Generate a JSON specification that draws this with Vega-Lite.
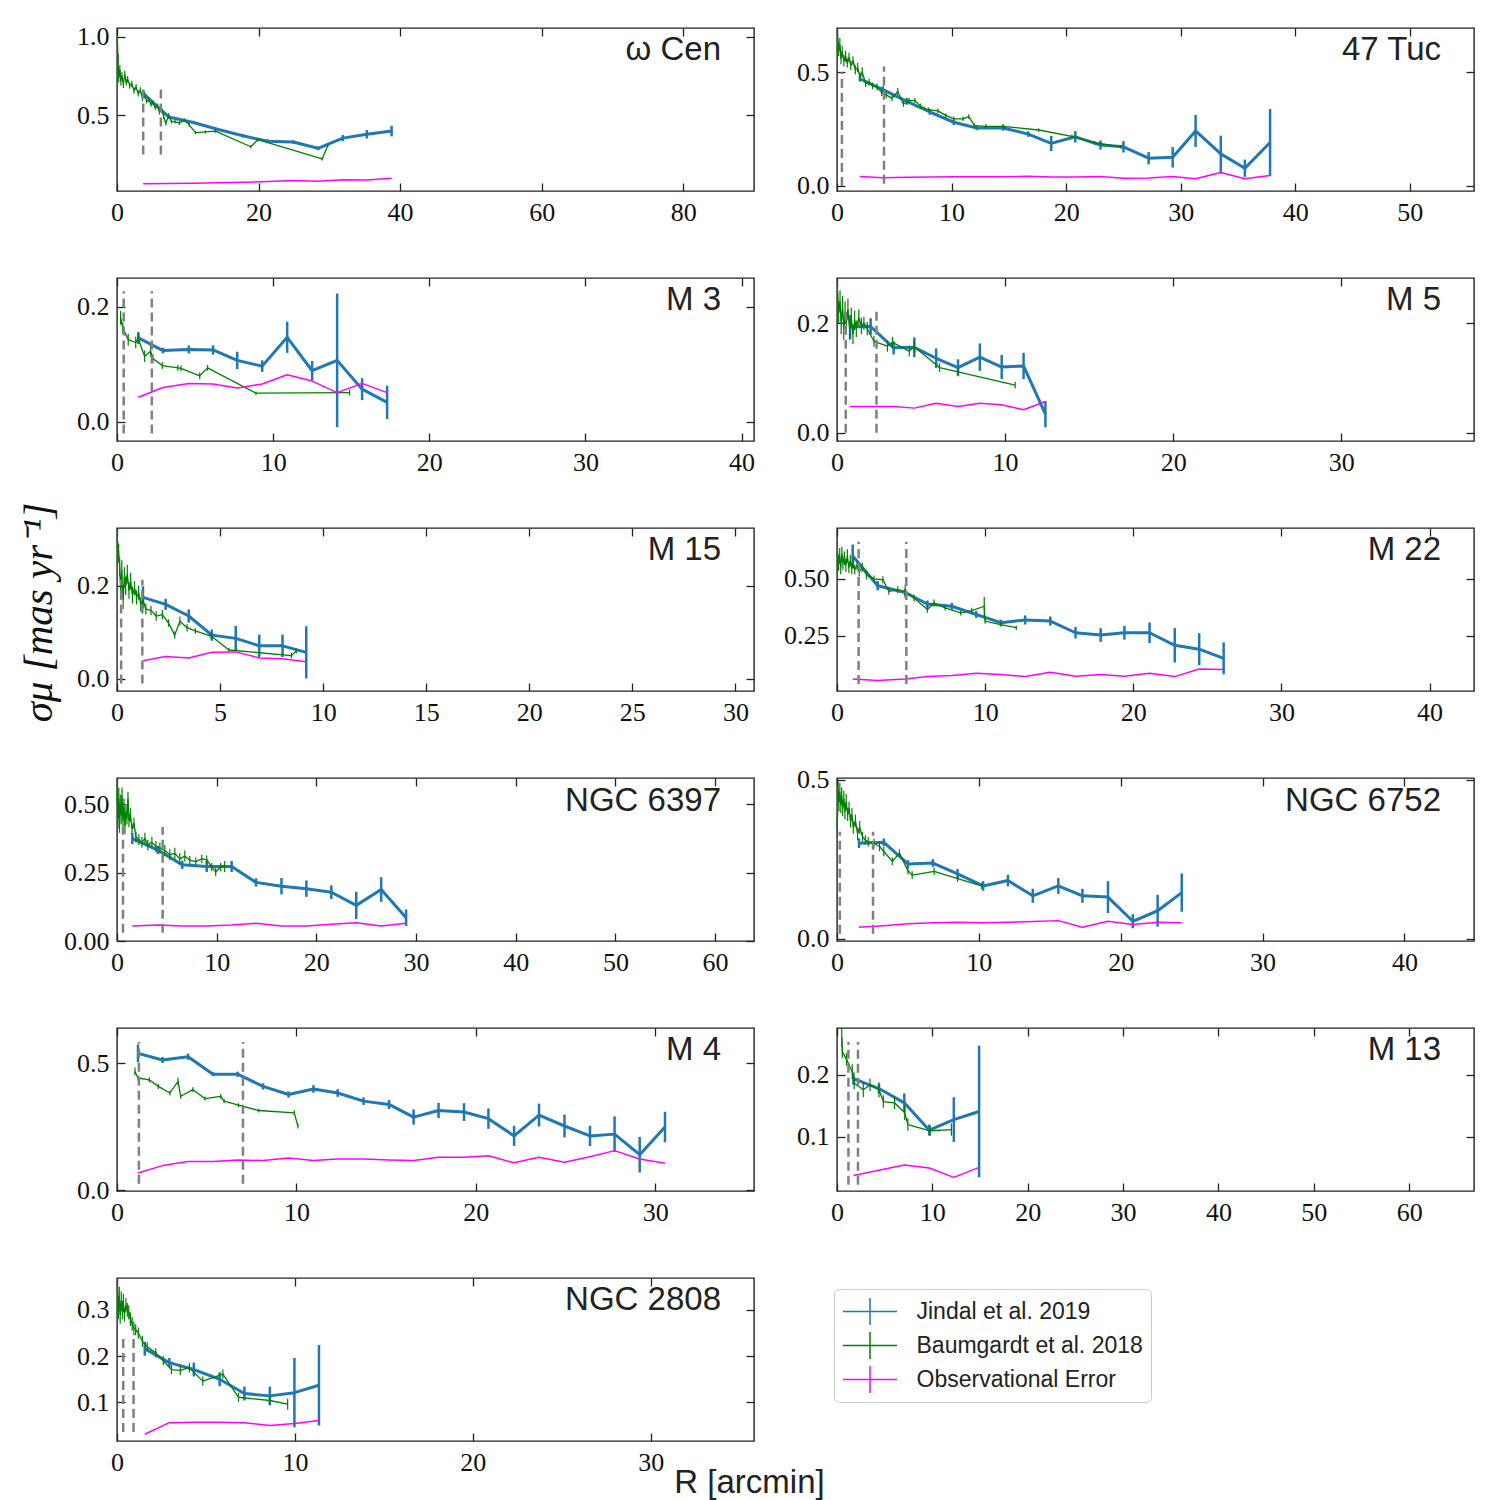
{
"$schema":"https://vega.github.io/schema/vega-lite/v6.json",
"background":"white",
"padding":{"left":17,"top":23,"right":5,"bottom":0},
"columns":2,
"spacing":{"row":87,"column":83},
"bounds":"flush",
"data":{"values":[
{"c":"wc","s":"J","r":3.7,"v":0.64,"e":0.02},{"c":"wc","s":"J","r":7.3,"v":0.49,"e":0.012},{"c":"wc","s":"J","r":10.8,"v":0.455,"e":0.01},{"c":"wc","s":"J","r":14.3,"v":0.41,"e":0.01},{"c":"wc","s":"J","r":17.8,"v":0.37,"e":0.01},{"c":"wc","s":"J","r":21.3,"v":0.335,"e":0.012},{"c":"wc","s":"J","r":24.9,"v":0.33,"e":0.01},{"c":"wc","s":"J","r":28.4,"v":0.29,"e":0.012},{"c":"wc","s":"J","r":31.9,"v":0.355,"e":0.02},{"c":"wc","s":"J","r":35.3,"v":0.38,"e":0.027},{"c":"wc","s":"J","r":38.8,"v":0.40,"e":0.034},
{"c":"wc","s":"B","r":0.05,"v":0.98,"e":0.03},{"c":"wc","s":"B","r":0.15,"v":0.86,"e":0.03},{"c":"wc","s":"B","r":0.25,"v":0.74,"e":0.03},{"c":"wc","s":"B","r":0.4,"v":0.79,"e":0.03},{"c":"wc","s":"B","r":0.55,"v":0.72,"e":0.03},{"c":"wc","s":"B","r":0.7,"v":0.75,"e":0.025},{"c":"wc","s":"B","r":0.9,"v":0.70,"e":0.025},{"c":"wc","s":"B","r":1.1,"v":0.76,"e":0.025},{"c":"wc","s":"B","r":1.3,"v":0.71,"e":0.02},{"c":"wc","s":"B","r":1.5,"v":0.73,"e":0.02},{"c":"wc","s":"B","r":1.8,"v":0.69,"e":0.02},{"c":"wc","s":"B","r":2.1,"v":0.70,"e":0.02},{"c":"wc","s":"B","r":2.4,"v":0.66,"e":0.02},{"c":"wc","s":"B","r":2.7,"v":0.68,"e":0.02},{"c":"wc","s":"B","r":3.0,"v":0.64,"e":0.02},{"c":"wc","s":"B","r":3.3,"v":0.66,"e":0.02},{"c":"wc","s":"B","r":3.6,"v":0.61,"e":0.02},{"c":"wc","s":"B","r":3.9,"v":0.63,"e":0.02},{"c":"wc","s":"B","r":4.2,"v":0.59,"e":0.015},{"c":"wc","s":"B","r":4.5,"v":0.60,"e":0.015},{"c":"wc","s":"B","r":4.8,"v":0.57,"e":0.015},{"c":"wc","s":"B","r":5.1,"v":0.58,"e":0.015},{"c":"wc","s":"B","r":5.4,"v":0.55,"e":0.015},{"c":"wc","s":"B","r":5.7,"v":0.56,"e":0.015},{"c":"wc","s":"B","r":6.0,"v":0.52,"e":0.015},{"c":"wc","s":"B","r":6.3,"v":0.54,"e":0.015},{"c":"wc","s":"B","r":6.6,"v":0.49,"e":0.015},{"c":"wc","s":"B","r":6.9,"v":0.45,"e":0.015},{"c":"wc","s":"B","r":7.3,"v":0.50,"e":0.015},{"c":"wc","s":"B","r":7.7,"v":0.46,"e":0.012},{"c":"wc","s":"B","r":8.2,"v":0.46,"e":0.012},{"c":"wc","s":"B","r":8.8,"v":0.45,"e":0.012},{"c":"wc","s":"B","r":9.5,"v":0.47,"e":0.012},{"c":"wc","s":"B","r":10.2,"v":0.44,"e":0.012},{"c":"wc","s":"B","r":11.1,"v":0.39,"e":0.01},{"c":"wc","s":"B","r":12.5,"v":0.395,"e":0.01},{"c":"wc","s":"B","r":13.9,"v":0.40,"e":0.01},{"c":"wc","s":"B","r":18.9,"v":0.30,"e":0.01},{"c":"wc","s":"B","r":19.9,"v":0.345,"e":0.01},{"c":"wc","s":"B","r":29.0,"v":0.223,"e":0.01},{"c":"wc","s":"B","r":29.8,"v":0.31,"e":0.01},
{"c":"wc","s":"O","r":3.7,"v":0.065},{"c":"wc","s":"O","r":7.3,"v":0.066},{"c":"wc","s":"O","r":10.8,"v":0.068},{"c":"wc","s":"O","r":14.3,"v":0.071},{"c":"wc","s":"O","r":17.8,"v":0.074},{"c":"wc","s":"O","r":21.3,"v":0.078},{"c":"wc","s":"O","r":24.9,"v":0.085},{"c":"wc","s":"O","r":28.4,"v":0.080},{"c":"wc","s":"O","r":31.9,"v":0.09},{"c":"wc","s":"O","r":35.3,"v":0.088},{"c":"wc","s":"O","r":38.8,"v":0.099},
{"c":"wc","s":"D","r":3.7,"lo":0.25,"hi":0.675},{"c":"wc","s":"D","r":6.2,"lo":0.25,"hi":0.675},

{"c":"t47","s":"J","r":2.0,"v":0.471,"e":0.012},{"c":"t47","s":"J","r":4.0,"v":0.423,"e":0.015},{"c":"t47","s":"J","r":6.1,"v":0.372,"e":0.015},{"c":"t47","s":"J","r":8.1,"v":0.325,"e":0.012},{"c":"t47","s":"J","r":10.2,"v":0.28,"e":0.012},{"c":"t47","s":"J","r":12.2,"v":0.255,"e":0.01},{"c":"t47","s":"J","r":14.5,"v":0.255,"e":0.012},{"c":"t47","s":"J","r":16.7,"v":0.228,"e":0.012},{"c":"t47","s":"J","r":18.7,"v":0.187,"e":0.033},{"c":"t47","s":"J","r":20.8,"v":0.216,"e":0.025},{"c":"t47","s":"J","r":23.0,"v":0.18,"e":0.02},{"c":"t47","s":"J","r":25.0,"v":0.172,"e":0.025},{"c":"t47","s":"J","r":27.2,"v":0.122,"e":0.027},{"c":"t47","s":"J","r":29.3,"v":0.126,"e":0.045},{"c":"t47","s":"J","r":31.3,"v":0.242,"e":0.07},{"c":"t47","s":"J","r":33.5,"v":0.141,"e":0.08},{"c":"t47","s":"J","r":35.6,"v":0.078,"e":0.038},{"c":"t47","s":"J","r":37.8,"v":0.191,"e":0.147},
{"c":"t47","s":"B","r":0.05,"v":0.66,"e":0.03},{"c":"t47","s":"B","r":0.15,"v":0.60,"e":0.03},{"c":"t47","s":"B","r":0.25,"v":0.62,"e":0.03},{"c":"t47","s":"B","r":0.35,"v":0.56,"e":0.025},{"c":"t47","s":"B","r":0.45,"v":0.59,"e":0.025},{"c":"t47","s":"B","r":0.6,"v":0.55,"e":0.025},{"c":"t47","s":"B","r":0.75,"v":0.57,"e":0.025},{"c":"t47","s":"B","r":0.9,"v":0.54,"e":0.02},{"c":"t47","s":"B","r":1.05,"v":0.565,"e":0.02},{"c":"t47","s":"B","r":1.2,"v":0.53,"e":0.02},{"c":"t47","s":"B","r":1.4,"v":0.55,"e":0.02},{"c":"t47","s":"B","r":1.6,"v":0.51,"e":0.02},{"c":"t47","s":"B","r":1.8,"v":0.52,"e":0.02},{"c":"t47","s":"B","r":2.0,"v":0.48,"e":0.02},{"c":"t47","s":"B","r":2.2,"v":0.50,"e":0.02},{"c":"t47","s":"B","r":2.5,"v":0.45,"e":0.015},{"c":"t47","s":"B","r":2.8,"v":0.455,"e":0.015},{"c":"t47","s":"B","r":3.1,"v":0.44,"e":0.015},{"c":"t47","s":"B","r":3.5,"v":0.435,"e":0.015},{"c":"t47","s":"B","r":3.9,"v":0.41,"e":0.015},{"c":"t47","s":"B","r":4.3,"v":0.40,"e":0.015},{"c":"t47","s":"B","r":4.8,"v":0.385,"e":0.012},{"c":"t47","s":"B","r":5.3,"v":0.415,"e":0.015},{"c":"t47","s":"B","r":5.8,"v":0.36,"e":0.012},{"c":"t47","s":"B","r":6.3,"v":0.375,"e":0.012},{"c":"t47","s":"B","r":6.8,"v":0.375,"e":0.012},{"c":"t47","s":"B","r":7.3,"v":0.35,"e":0.012},{"c":"t47","s":"B","r":8.0,"v":0.335,"e":0.01},{"c":"t47","s":"B","r":8.8,"v":0.33,"e":0.01},{"c":"t47","s":"B","r":9.5,"v":0.31,"e":0.01},{"c":"t47","s":"B","r":10.2,"v":0.295,"e":0.01},{"c":"t47","s":"B","r":11.0,"v":0.295,"e":0.01},{"c":"t47","s":"B","r":11.5,"v":0.305,"e":0.01},{"c":"t47","s":"B","r":12.0,"v":0.265,"e":0.01},{"c":"t47","s":"B","r":13.0,"v":0.262,"e":0.01},{"c":"t47","s":"B","r":14.5,"v":0.262,"e":0.01},{"c":"t47","s":"B","r":17.6,"v":0.246,"e":0.008},{"c":"t47","s":"B","r":20.5,"v":0.218,"e":0.008},{"c":"t47","s":"B","r":22.5,"v":0.19,"e":0.008},{"c":"t47","s":"B","r":24.8,"v":0.172,"e":0.008},
{"c":"t47","s":"O","r":2.0,"v":0.042},{"c":"t47","s":"O","r":4.0,"v":0.036},{"c":"t47","s":"O","r":6.1,"v":0.038},{"c":"t47","s":"O","r":8.1,"v":0.04},{"c":"t47","s":"O","r":10.2,"v":0.041},{"c":"t47","s":"O","r":12.2,"v":0.041},{"c":"t47","s":"O","r":14.5,"v":0.041},{"c":"t47","s":"O","r":16.7,"v":0.043},{"c":"t47","s":"O","r":18.7,"v":0.04},{"c":"t47","s":"O","r":20.8,"v":0.04},{"c":"t47","s":"O","r":23.0,"v":0.042},{"c":"t47","s":"O","r":25.0,"v":0.034},{"c":"t47","s":"O","r":27.2,"v":0.035},{"c":"t47","s":"O","r":29.3,"v":0.042},{"c":"t47","s":"O","r":31.3,"v":0.032},{"c":"t47","s":"O","r":33.5,"v":0.059},{"c":"t47","s":"O","r":35.6,"v":0.032},{"c":"t47","s":"O","r":37.8,"v":0.046},
{"c":"t47","s":"D","r":0.43,"lo":0,"hi":0.50},{"c":"t47","s":"D","r":4.1,"lo":0.01,"hi":0.525},

{"c":"m3","s":"J","r":1.37,"v":0.146,"e":0.01},{"c":"m3","s":"J","r":2.95,"v":0.124,"e":0.005},{"c":"m3","s":"J","r":4.6,"v":0.126,"e":0.007},{"c":"m3","s":"J","r":6.15,"v":0.125,"e":0.008},{"c":"m3","s":"J","r":7.7,"v":0.107,"e":0.015},{"c":"m3","s":"J","r":9.3,"v":0.097,"e":0.01},{"c":"m3","s":"J","r":10.9,"v":0.147,"e":0.027},{"c":"m3","s":"J","r":12.5,"v":0.089,"e":0.017},{"c":"m3","s":"J","r":14.1,"v":0.107,"e":0.116},{"c":"m3","s":"J","r":15.7,"v":0.057,"e":0.019},{"c":"m3","s":"J","r":17.3,"v":0.034,"e":0.029},
{"c":"m3","s":"B","r":0.23,"v":0.181,"e":0.012},{"c":"m3","s":"B","r":0.37,"v":0.163,"e":0.01},{"c":"m3","s":"B","r":0.72,"v":0.143,"e":0.01},{"c":"m3","s":"B","r":1.2,"v":0.138,"e":0.01},{"c":"m3","s":"B","r":1.35,"v":0.145,"e":0.01},{"c":"m3","s":"B","r":1.77,"v":0.114,"e":0.01},{"c":"m3","s":"B","r":2.15,"v":0.123,"e":0.01},{"c":"m3","s":"B","r":2.3,"v":0.110,"e":0.008},{"c":"m3","s":"B","r":2.9,"v":0.098,"e":0.006},{"c":"m3","s":"B","r":3.9,"v":0.094,"e":0.005},{"c":"m3","s":"B","r":4.1,"v":0.093,"e":0.005},{"c":"m3","s":"B","r":5.3,"v":0.08,"e":0.006},{"c":"m3","s":"B","r":5.8,"v":0.094,"e":0.005},{"c":"m3","s":"B","r":8.9,"v":0.05,"e":0.003},{"c":"m3","s":"B","r":14.9,"v":0.051,"e":0.005},
{"c":"m3","s":"O","r":1.37,"v":0.043},{"c":"m3","s":"O","r":2.95,"v":0.06},{"c":"m3","s":"O","r":4.6,"v":0.067},{"c":"m3","s":"O","r":6.15,"v":0.066},{"c":"m3","s":"O","r":7.7,"v":0.059},{"c":"m3","s":"O","r":9.3,"v":0.066},{"c":"m3","s":"O","r":10.9,"v":0.082},{"c":"m3","s":"O","r":12.5,"v":0.071},{"c":"m3","s":"O","r":14.1,"v":0.051},{"c":"m3","s":"O","r":15.7,"v":0.067},{"c":"m3","s":"O","r":17.3,"v":0.051},
{"c":"m3","s":"D","r":0.43,"lo":-0.02,"hi":0.227},{"c":"m3","s":"D","r":2.23,"lo":-0.02,"hi":0.227},

{"c":"m5","s":"J","r":0.78,"v":0.193,"e":0.022},{"c":"m5","s":"J","r":2.0,"v":0.194,"e":0.015},{"c":"m5","s":"J","r":3.37,"v":0.155,"e":0.012},{"c":"m5","s":"J","r":4.6,"v":0.156,"e":0.018},{"c":"m5","s":"J","r":5.9,"v":0.136,"e":0.018},{"c":"m5","s":"J","r":7.2,"v":0.119,"e":0.015},{"c":"m5","s":"J","r":8.5,"v":0.138,"e":0.025},{"c":"m5","s":"J","r":9.8,"v":0.12,"e":0.022},{"c":"m5","s":"J","r":11.1,"v":0.122,"e":0.024},{"c":"m5","s":"J","r":12.4,"v":0.034,"e":0.024},
{"c":"m5","s":"B","r":0.03,"v":0.26,"e":0.02},{"c":"m5","s":"B","r":0.1,"v":0.22,"e":0.02},{"c":"m5","s":"B","r":0.18,"v":0.24,"e":0.02},{"c":"m5","s":"B","r":0.25,"v":0.20,"e":0.02},{"c":"m5","s":"B","r":0.33,"v":0.23,"e":0.02},{"c":"m5","s":"B","r":0.4,"v":0.19,"e":0.02},{"c":"m5","s":"B","r":0.48,"v":0.22,"e":0.02},{"c":"m5","s":"B","r":0.55,"v":0.20,"e":0.02},{"c":"m5","s":"B","r":0.65,"v":0.225,"e":0.02},{"c":"m5","s":"B","r":0.75,"v":0.19,"e":0.02},{"c":"m5","s":"B","r":0.85,"v":0.21,"e":0.018},{"c":"m5","s":"B","r":0.95,"v":0.18,"e":0.018},{"c":"m5","s":"B","r":1.05,"v":0.205,"e":0.018},{"c":"m5","s":"B","r":1.15,"v":0.19,"e":0.015},{"c":"m5","s":"B","r":1.3,"v":0.21,"e":0.015},{"c":"m5","s":"B","r":1.45,"v":0.195,"e":0.015},{"c":"m5","s":"B","r":1.6,"v":0.20,"e":0.012},{"c":"m5","s":"B","r":1.8,"v":0.19,"e":0.012},{"c":"m5","s":"B","r":2.2,"v":0.167,"e":0.01},{"c":"m5","s":"B","r":3.0,"v":0.158,"e":0.01},{"c":"m5","s":"B","r":3.3,"v":0.165,"e":0.01},{"c":"m5","s":"B","r":4.3,"v":0.149,"e":0.01},{"c":"m5","s":"B","r":4.6,"v":0.157,"e":0.01},{"c":"m5","s":"B","r":6.1,"v":0.119,"e":0.008},{"c":"m5","s":"B","r":7.2,"v":0.111,"e":0.008},{"c":"m5","s":"B","r":10.6,"v":0.087,"e":0.006},
{"c":"m5","s":"O","r":0.78,"v":0.048},{"c":"m5","s":"O","r":2.0,"v":0.048},{"c":"m5","s":"O","r":3.37,"v":0.048},{"c":"m5","s":"O","r":4.6,"v":0.045},{"c":"m5","s":"O","r":5.9,"v":0.054},{"c":"m5","s":"O","r":7.2,"v":0.048},{"c":"m5","s":"O","r":8.5,"v":0.054},{"c":"m5","s":"O","r":9.8,"v":0.051},{"c":"m5","s":"O","r":11.1,"v":0.042},{"c":"m5","s":"O","r":12.4,"v":0.057},
{"c":"m5","s":"D","r":0.52,"lo":0,"hi":0.227},{"c":"m5","s":"D","r":2.35,"lo":0,"hi":0.227},

{"c":"m15","s":"J","r":1.26,"v":0.175,"e":0.024},{"c":"m15","s":"J","r":2.36,"v":0.16,"e":0.012},{"c":"m15","s":"J","r":3.48,"v":0.135,"e":0.014},{"c":"m15","s":"J","r":4.6,"v":0.094,"e":0.012},{"c":"m15","s":"J","r":5.76,"v":0.087,"e":0.027},{"c":"m15","s":"J","r":6.9,"v":0.071,"e":0.024},{"c":"m15","s":"J","r":8.03,"v":0.071,"e":0.024},{"c":"m15","s":"J","r":9.18,"v":0.057,"e":0.056},
{"c":"m15","s":"B","r":0.02,"v":0.30,"e":0.02},{"c":"m15","s":"B","r":0.08,"v":0.27,"e":0.02},{"c":"m15","s":"B","r":0.13,"v":0.24,"e":0.02},{"c":"m15","s":"B","r":0.18,"v":0.19,"e":0.02},{"c":"m15","s":"B","r":0.23,"v":0.235,"e":0.02},{"c":"m15","s":"B","r":0.3,"v":0.17,"e":0.02},{"c":"m15","s":"B","r":0.36,"v":0.22,"e":0.02},{"c":"m15","s":"B","r":0.42,"v":0.20,"e":0.02},{"c":"m15","s":"B","r":0.5,"v":0.225,"e":0.02},{"c":"m15","s":"B","r":0.58,"v":0.19,"e":0.018},{"c":"m15","s":"B","r":0.66,"v":0.21,"e":0.018},{"c":"m15","s":"B","r":0.75,"v":0.18,"e":0.018},{"c":"m15","s":"B","r":0.85,"v":0.195,"e":0.015},{"c":"m15","s":"B","r":0.95,"v":0.175,"e":0.015},{"c":"m15","s":"B","r":1.05,"v":0.185,"e":0.015},{"c":"m15","s":"B","r":1.15,"v":0.16,"e":0.015},{"c":"m15","s":"B","r":1.25,"v":0.17,"e":0.012},{"c":"m15","s":"B","r":1.4,"v":0.15,"e":0.012},{"c":"m15","s":"B","r":1.65,"v":0.147,"e":0.01},{"c":"m15","s":"B","r":1.9,"v":0.135,"e":0.01},{"c":"m15","s":"B","r":2.2,"v":0.138,"e":0.01},{"c":"m15","s":"B","r":2.5,"v":0.12,"e":0.008},{"c":"m15","s":"B","r":2.8,"v":0.094,"e":0.008},{"c":"m15","s":"B","r":3.05,"v":0.124,"e":0.01},{"c":"m15","s":"B","r":3.4,"v":0.11,"e":0.008},{"c":"m15","s":"B","r":3.8,"v":0.103,"e":0.006},{"c":"m15","s":"B","r":4.57,"v":0.092,"e":0.006},{"c":"m15","s":"B","r":5.43,"v":0.062,"e":0.005},{"c":"m15","s":"B","r":8.46,"v":0.05,"e":0.006},{"c":"m15","s":"B","r":8.7,"v":0.06,"e":0.005},
{"c":"m15","s":"O","r":1.26,"v":0.039},{"c":"m15","s":"O","r":2.36,"v":0.048},{"c":"m15","s":"O","r":3.48,"v":0.045},{"c":"m15","s":"O","r":4.6,"v":0.057},{"c":"m15","s":"O","r":5.76,"v":0.058},{"c":"m15","s":"O","r":6.9,"v":0.045},{"c":"m15","s":"O","r":8.03,"v":0.043},{"c":"m15","s":"O","r":9.18,"v":0.037},
{"c":"m15","s":"D","r":0.2,"lo":-0.01,"hi":0.213},{"c":"m15","s":"D","r":1.23,"lo":-0.01,"hi":0.213},

{"c":"m22","s":"J","r":1.06,"v":0.60,"e":0.05},{"c":"m22","s":"J","r":2.75,"v":0.47,"e":0.02},{"c":"m22","s":"J","r":4.6,"v":0.44,"e":0.015},{"c":"m22","s":"J","r":6.1,"v":0.39,"e":0.015},{"c":"m22","s":"J","r":7.75,"v":0.38,"e":0.015},{"c":"m22","s":"J","r":9.4,"v":0.344,"e":0.015},{"c":"m22","s":"J","r":11.06,"v":0.308,"e":0.013},{"c":"m22","s":"J","r":12.7,"v":0.32,"e":0.02},{"c":"m22","s":"J","r":14.4,"v":0.315,"e":0.02},{"c":"m22","s":"J","r":16.1,"v":0.264,"e":0.025},{"c":"m22","s":"J","r":17.8,"v":0.254,"e":0.03},{"c":"m22","s":"J","r":19.4,"v":0.264,"e":0.03},{"c":"m22","s":"J","r":21.1,"v":0.264,"e":0.045},{"c":"m22","s":"J","r":22.8,"v":0.209,"e":0.075},{"c":"m22","s":"J","r":24.45,"v":0.192,"e":0.07},{"c":"m22","s":"J","r":26.1,"v":0.152,"e":0.07},
{"c":"m22","s":"B","r":0.03,"v":0.62,"e":0.04},{"c":"m22","s":"B","r":0.1,"v":0.57,"e":0.035},{"c":"m22","s":"B","r":0.18,"v":0.60,"e":0.035},{"c":"m22","s":"B","r":0.25,"v":0.55,"e":0.03},{"c":"m22","s":"B","r":0.33,"v":0.61,"e":0.03},{"c":"m22","s":"B","r":0.4,"v":0.57,"e":0.03},{"c":"m22","s":"B","r":0.5,"v":0.59,"e":0.03},{"c":"m22","s":"B","r":0.6,"v":0.56,"e":0.03},{"c":"m22","s":"B","r":0.7,"v":0.60,"e":0.03},{"c":"m22","s":"B","r":0.8,"v":0.55,"e":0.025},{"c":"m22","s":"B","r":0.9,"v":0.58,"e":0.025},{"c":"m22","s":"B","r":1.0,"v":0.545,"e":0.025},{"c":"m22","s":"B","r":1.1,"v":0.57,"e":0.025},{"c":"m22","s":"B","r":1.2,"v":0.54,"e":0.02},{"c":"m22","s":"B","r":1.35,"v":0.56,"e":0.02},{"c":"m22","s":"B","r":1.5,"v":0.53,"e":0.02},{"c":"m22","s":"B","r":1.7,"v":0.55,"e":0.02},{"c":"m22","s":"B","r":2.0,"v":0.517,"e":0.02},{"c":"m22","s":"B","r":2.5,"v":0.50,"e":0.015},{"c":"m22","s":"B","r":3.1,"v":0.496,"e":0.015},{"c":"m22","s":"B","r":3.5,"v":0.445,"e":0.015},{"c":"m22","s":"B","r":4.1,"v":0.452,"e":0.015},{"c":"m22","s":"B","r":4.6,"v":0.445,"e":0.03},{"c":"m22","s":"B","r":5.2,"v":0.416,"e":0.015},{"c":"m22","s":"B","r":6.1,"v":0.366,"e":0.015},{"c":"m22","s":"B","r":6.55,"v":0.394,"e":0.015},{"c":"m22","s":"B","r":7.3,"v":0.373,"e":0.012},{"c":"m22","s":"B","r":8.35,"v":0.351,"e":0.012},{"c":"m22","s":"B","r":9.1,"v":0.361,"e":0.012},{"c":"m22","s":"B","r":9.94,"v":0.38,"e":0.04},{"c":"m22","s":"B","r":10.0,"v":0.315,"e":0.012},{"c":"m22","s":"B","r":11.06,"v":0.30,"e":0.01},{"c":"m22","s":"B","r":12.1,"v":0.286,"e":0.01},
{"c":"m22","s":"O","r":1.06,"v":0.062},{"c":"m22","s":"O","r":2.75,"v":0.055},{"c":"m22","s":"O","r":4.6,"v":0.062},{"c":"m22","s":"O","r":6.1,"v":0.072},{"c":"m22","s":"O","r":7.75,"v":0.077},{"c":"m22","s":"O","r":9.4,"v":0.087},{"c":"m22","s":"O","r":11.06,"v":0.081},{"c":"m22","s":"O","r":12.7,"v":0.072},{"c":"m22","s":"O","r":14.4,"v":0.091},{"c":"m22","s":"O","r":16.1,"v":0.074},{"c":"m22","s":"O","r":17.8,"v":0.081},{"c":"m22","s":"O","r":19.4,"v":0.074},{"c":"m22","s":"O","r":21.1,"v":0.087},{"c":"m22","s":"O","r":22.8,"v":0.072},{"c":"m22","s":"O","r":24.45,"v":0.105},{"c":"m22","s":"O","r":26.1,"v":0.103},
{"c":"m22","s":"D","r":1.46,"lo":0.04,"hi":0.662},{"c":"m22","s":"D","r":4.68,"lo":0.04,"hi":0.662},

{"c":"n6397","s":"J","r":1.54,"v":0.374,"e":0.02},{"c":"n6397","s":"J","r":4.1,"v":0.332,"e":0.015},{"c":"n6397","s":"J","r":6.55,"v":0.278,"e":0.015},{"c":"n6397","s":"J","r":9.0,"v":0.272,"e":0.02},{"c":"n6397","s":"J","r":11.5,"v":0.272,"e":0.02},{"c":"n6397","s":"J","r":13.95,"v":0.214,"e":0.015},{"c":"n6397","s":"J","r":16.5,"v":0.2,"e":0.03},{"c":"n6397","s":"J","r":19.0,"v":0.191,"e":0.03},{"c":"n6397","s":"J","r":21.5,"v":0.178,"e":0.025},{"c":"n6397","s":"J","r":24.0,"v":0.13,"e":0.05},{"c":"n6397","s":"J","r":26.5,"v":0.188,"e":0.045},{"c":"n6397","s":"J","r":29.0,"v":0.085,"e":0.03},
{"c":"n6397","s":"B","r":0.03,"v":0.55,"e":0.04},{"c":"n6397","s":"B","r":0.1,"v":0.45,"e":0.04},{"c":"n6397","s":"B","r":0.18,"v":0.52,"e":0.04},{"c":"n6397","s":"B","r":0.25,"v":0.43,"e":0.035},{"c":"n6397","s":"B","r":0.33,"v":0.50,"e":0.035},{"c":"n6397","s":"B","r":0.42,"v":0.46,"e":0.035},{"c":"n6397","s":"B","r":0.5,"v":0.53,"e":0.03},{"c":"n6397","s":"B","r":0.6,"v":0.44,"e":0.03},{"c":"n6397","s":"B","r":0.7,"v":0.49,"e":0.03},{"c":"n6397","s":"B","r":0.8,"v":0.42,"e":0.03},{"c":"n6397","s":"B","r":0.9,"v":0.47,"e":0.03},{"c":"n6397","s":"B","r":1.0,"v":0.45,"e":0.025},{"c":"n6397","s":"B","r":1.1,"v":0.52,"e":0.025},{"c":"n6397","s":"B","r":1.2,"v":0.44,"e":0.025},{"c":"n6397","s":"B","r":1.35,"v":0.46,"e":0.025},{"c":"n6397","s":"B","r":1.5,"v":0.41,"e":0.02},{"c":"n6397","s":"B","r":1.7,"v":0.43,"e":0.02},{"c":"n6397","s":"B","r":1.9,"v":0.38,"e":0.02},{"c":"n6397","s":"B","r":2.2,"v":0.37,"e":0.02},{"c":"n6397","s":"B","r":2.5,"v":0.36,"e":0.02},{"c":"n6397","s":"B","r":2.8,"v":0.375,"e":0.02},{"c":"n6397","s":"B","r":3.1,"v":0.35,"e":0.02},{"c":"n6397","s":"B","r":3.5,"v":0.36,"e":0.02},{"c":"n6397","s":"B","r":3.9,"v":0.345,"e":0.02},{"c":"n6397","s":"B","r":4.3,"v":0.34,"e":0.02},{"c":"n6397","s":"B","r":4.8,"v":0.33,"e":0.02},{"c":"n6397","s":"B","r":5.3,"v":0.315,"e":0.02},{"c":"n6397","s":"B","r":5.8,"v":0.32,"e":0.02},{"c":"n6397","s":"B","r":6.3,"v":0.30,"e":0.02},{"c":"n6397","s":"B","r":6.8,"v":0.31,"e":0.02},{"c":"n6397","s":"B","r":7.3,"v":0.295,"e":0.015},{"c":"n6397","s":"B","r":7.9,"v":0.29,"e":0.015},{"c":"n6397","s":"B","r":8.5,"v":0.30,"e":0.015},{"c":"n6397","s":"B","r":9.0,"v":0.297,"e":0.015},{"c":"n6397","s":"B","r":9.5,"v":0.27,"e":0.015},{"c":"n6397","s":"B","r":9.9,"v":0.252,"e":0.015},{"c":"n6397","s":"B","r":10.4,"v":0.27,"e":0.015},{"c":"n6397","s":"B","r":10.8,"v":0.272,"e":0.02},
{"c":"n6397","s":"O","r":1.54,"v":0.055},{"c":"n6397","s":"O","r":4.1,"v":0.058},{"c":"n6397","s":"O","r":6.55,"v":0.055},{"c":"n6397","s":"O","r":9.0,"v":0.055},{"c":"n6397","s":"O","r":11.5,"v":0.058},{"c":"n6397","s":"O","r":13.95,"v":0.065},{"c":"n6397","s":"O","r":16.5,"v":0.055},{"c":"n6397","s":"O","r":19.0,"v":0.055},{"c":"n6397","s":"O","r":21.5,"v":0.061},{"c":"n6397","s":"O","r":24.0,"v":0.067},{"c":"n6397","s":"O","r":26.5,"v":0.055},{"c":"n6397","s":"O","r":29.0,"v":0.065},
{"c":"n6397","s":"D","r":0.6,"lo":0.03,"hi":0.416},{"c":"n6397","s":"D","r":4.58,"lo":0.03,"hi":0.416},

{"c":"n6752","s":"J","r":1.55,"v":0.30,"e":0.015},{"c":"n6752","s":"J","r":3.3,"v":0.303,"e":0.012},{"c":"n6752","s":"J","r":5.0,"v":0.235,"e":0.012},{"c":"n6752","s":"J","r":6.76,"v":0.238,"e":0.012},{"c":"n6752","s":"J","r":8.5,"v":0.204,"e":0.015},{"c":"n6752","s":"J","r":10.3,"v":0.166,"e":0.015},{"c":"n6752","s":"J","r":12.05,"v":0.183,"e":0.018},{"c":"n6752","s":"J","r":13.8,"v":0.135,"e":0.022},{"c":"n6752","s":"J","r":15.6,"v":0.166,"e":0.025},{"c":"n6752","s":"J","r":17.3,"v":0.135,"e":0.022},{"c":"n6752","s":"J","r":19.1,"v":0.131,"e":0.05},{"c":"n6752","s":"J","r":20.85,"v":0.055,"e":0.022},{"c":"n6752","s":"J","r":22.6,"v":0.088,"e":0.05},{"c":"n6752","s":"J","r":24.3,"v":0.145,"e":0.06},
{"c":"n6752","s":"B","r":0.02,"v":0.35,"e":0.03},{"c":"n6752","s":"B","r":0.08,"v":0.47,"e":0.03},{"c":"n6752","s":"B","r":0.14,"v":0.43,"e":0.03},{"c":"n6752","s":"B","r":0.2,"v":0.46,"e":0.03},{"c":"n6752","s":"B","r":0.27,"v":0.42,"e":0.025},{"c":"n6752","s":"B","r":0.33,"v":0.45,"e":0.025},{"c":"n6752","s":"B","r":0.4,"v":0.41,"e":0.025},{"c":"n6752","s":"B","r":0.48,"v":0.44,"e":0.025},{"c":"n6752","s":"B","r":0.56,"v":0.40,"e":0.025},{"c":"n6752","s":"B","r":0.65,"v":0.43,"e":0.025},{"c":"n6752","s":"B","r":0.75,"v":0.39,"e":0.02},{"c":"n6752","s":"B","r":0.85,"v":0.41,"e":0.02},{"c":"n6752","s":"B","r":0.95,"v":0.37,"e":0.02},{"c":"n6752","s":"B","r":1.05,"v":0.39,"e":0.02},{"c":"n6752","s":"B","r":1.15,"v":0.35,"e":0.02},{"c":"n6752","s":"B","r":1.3,"v":0.37,"e":0.02},{"c":"n6752","s":"B","r":1.45,"v":0.33,"e":0.02},{"c":"n6752","s":"B","r":1.6,"v":0.35,"e":0.02},{"c":"n6752","s":"B","r":1.8,"v":0.32,"e":0.015},{"c":"n6752","s":"B","r":2.0,"v":0.31,"e":0.015},{"c":"n6752","s":"B","r":2.2,"v":0.305,"e":0.015},{"c":"n6752","s":"B","r":2.6,"v":0.30,"e":0.015},{"c":"n6752","s":"B","r":3.0,"v":0.29,"e":0.015},{"c":"n6752","s":"B","r":3.3,"v":0.274,"e":0.015},{"c":"n6752","s":"B","r":3.9,"v":0.243,"e":0.012},{"c":"n6752","s":"B","r":4.4,"v":0.269,"e":0.012},{"c":"n6752","s":"B","r":5.0,"v":0.214,"e":0.012},{"c":"n6752","s":"B","r":5.3,"v":0.20,"e":0.012},{"c":"n6752","s":"B","r":6.85,"v":0.212,"e":0.012},{"c":"n6752","s":"B","r":8.5,"v":0.189,"e":0.01},{"c":"n6752","s":"B","r":10.2,"v":0.166,"e":0.01},
{"c":"n6752","s":"O","r":1.55,"v":0.036},{"c":"n6752","s":"O","r":3.3,"v":0.041},{"c":"n6752","s":"O","r":5.0,"v":0.047},{"c":"n6752","s":"O","r":6.76,"v":0.05},{"c":"n6752","s":"O","r":8.5,"v":0.052},{"c":"n6752","s":"O","r":10.3,"v":0.05},{"c":"n6752","s":"O","r":12.05,"v":0.052},{"c":"n6752","s":"O","r":13.8,"v":0.054},{"c":"n6752","s":"O","r":15.6,"v":0.057},{"c":"n6752","s":"O","r":17.3,"v":0.036},{"c":"n6752","s":"O","r":19.1,"v":0.055},{"c":"n6752","s":"O","r":20.85,"v":0.045},{"c":"n6752","s":"O","r":22.6,"v":0.052},{"c":"n6752","s":"O","r":24.3,"v":0.05},
{"c":"n6752","s":"D","r":0.2,"lo":0.016,"hi":0.336},{"c":"n6752","s":"D","r":2.54,"lo":0.016,"hi":0.336},

{"c":"m4","s":"J","r":1.17,"v":0.539,"e":0.035},{"c":"m4","s":"J","r":2.54,"v":0.513,"e":0.012},{"c":"m4","s":"J","r":3.96,"v":0.526,"e":0.012},{"c":"m4","s":"J","r":5.35,"v":0.457,"e":0.008},{"c":"m4","s":"J","r":6.72,"v":0.457,"e":0.01},{"c":"m4","s":"J","r":8.14,"v":0.409,"e":0.012},{"c":"m4","s":"J","r":9.56,"v":0.377,"e":0.012},{"c":"m4","s":"J","r":10.95,"v":0.399,"e":0.015},{"c":"m4","s":"J","r":12.3,"v":0.383,"e":0.015},{"c":"m4","s":"J","r":13.74,"v":0.351,"e":0.015},{"c":"m4","s":"J","r":15.16,"v":0.338,"e":0.018},{"c":"m4","s":"J","r":16.53,"v":0.288,"e":0.03},{"c":"m4","s":"J","r":17.92,"v":0.314,"e":0.03},{"c":"m4","s":"J","r":19.34,"v":0.308,"e":0.035},{"c":"m4","s":"J","r":20.7,"v":0.282,"e":0.04},{"c":"m4","s":"J","r":22.13,"v":0.214,"e":0.04},{"c":"m4","s":"J","r":23.52,"v":0.296,"e":0.045},{"c":"m4","s":"J","r":24.94,"v":0.253,"e":0.045},{"c":"m4","s":"J","r":26.36,"v":0.214,"e":0.04},{"c":"m4","s":"J","r":27.73,"v":0.221,"e":0.07},{"c":"m4","s":"J","r":29.13,"v":0.14,"e":0.07},{"c":"m4","s":"J","r":30.54,"v":0.249,"e":0.06},
{"c":"m4","s":"B","r":1.0,"v":0.468,"e":0.015},{"c":"m4","s":"B","r":1.17,"v":0.442,"e":0.01},{"c":"m4","s":"B","r":1.8,"v":0.435,"e":0.01},{"c":"m4","s":"B","r":2.3,"v":0.409,"e":0.01},{"c":"m4","s":"B","r":2.95,"v":0.383,"e":0.01},{"c":"m4","s":"B","r":3.4,"v":0.429,"e":0.015},{"c":"m4","s":"B","r":3.55,"v":0.37,"e":0.01},{"c":"m4","s":"B","r":4.23,"v":0.396,"e":0.01},{"c":"m4","s":"B","r":4.9,"v":0.361,"e":0.008},{"c":"m4","s":"B","r":5.78,"v":0.37,"e":0.01},{"c":"m4","s":"B","r":5.97,"v":0.351,"e":0.008},{"c":"m4","s":"B","r":6.77,"v":0.335,"e":0.008},{"c":"m4","s":"B","r":7.9,"v":0.314,"e":0.008},{"c":"m4","s":"B","r":9.88,"v":0.305,"e":0.01},{"c":"m4","s":"B","r":10.08,"v":0.253,"e":0.01},
{"c":"m4","s":"O","r":1.17,"v":0.068},{"c":"m4","s":"O","r":2.54,"v":0.097},{"c":"m4","s":"O","r":3.96,"v":0.113},{"c":"m4","s":"O","r":5.35,"v":0.113},{"c":"m4","s":"O","r":6.72,"v":0.119},{"c":"m4","s":"O","r":8.14,"v":0.117},{"c":"m4","s":"O","r":9.56,"v":0.127},{"c":"m4","s":"O","r":10.95,"v":0.117},{"c":"m4","s":"O","r":12.3,"v":0.123},{"c":"m4","s":"O","r":13.74,"v":0.123},{"c":"m4","s":"O","r":15.16,"v":0.119},{"c":"m4","s":"O","r":16.53,"v":0.117},{"c":"m4","s":"O","r":17.92,"v":0.13},{"c":"m4","s":"O","r":19.34,"v":0.13},{"c":"m4","s":"O","r":20.7,"v":0.136},{"c":"m4","s":"O","r":22.13,"v":0.108},{"c":"m4","s":"O","r":23.52,"v":0.13},{"c":"m4","s":"O","r":24.94,"v":0.11},{"c":"m4","s":"O","r":26.36,"v":0.132},{"c":"m4","s":"O","r":27.73,"v":0.156},{"c":"m4","s":"O","r":29.13,"v":0.123},{"c":"m4","s":"O","r":30.54,"v":0.106},
{"c":"m4","s":"D","r":1.22,"lo":0.026,"hi":0.584},{"c":"m4","s":"D","r":7.02,"lo":0.026,"hi":0.584},

{"c":"m13","s":"J","r":1.73,"v":0.194,"e":0.01},{"c":"m13","s":"J","r":4.4,"v":0.178,"e":0.008},{"c":"m13","s":"J","r":7.06,"v":0.155,"e":0.015},{"c":"m13","s":"J","r":9.68,"v":0.111,"e":0.009},{"c":"m13","s":"J","r":12.25,"v":0.128,"e":0.036},{"c":"m13","s":"J","r":14.9,"v":0.141,"e":0.106},
{"c":"m13","s":"B","r":0.5,"v":0.261,"e":0.015},{"c":"m13","s":"B","r":0.56,"v":0.237,"e":0.01},{"c":"m13","s":"B","r":1.0,"v":0.225,"e":0.01},{"c":"m13","s":"B","r":1.6,"v":0.205,"e":0.012},{"c":"m13","s":"B","r":1.8,"v":0.187,"e":0.01},{"c":"m13","s":"B","r":2.76,"v":0.176,"e":0.012},{"c":"m13","s":"B","r":3.46,"v":0.184,"e":0.01},{"c":"m13","s":"B","r":4.4,"v":0.176,"e":0.012},{"c":"m13","s":"B","r":4.86,"v":0.157,"e":0.01},{"c":"m13","s":"B","r":6.03,"v":0.155,"e":0.01},{"c":"m13","s":"B","r":7.1,"v":0.139,"e":0.012},{"c":"m13","s":"B","r":7.43,"v":0.12,"e":0.01},{"c":"m13","s":"B","r":9.77,"v":0.11,"e":0.008},{"c":"m13","s":"B","r":12.0,"v":0.112,"e":0.01},
{"c":"m13","s":"O","r":1.73,"v":0.038},{"c":"m13","s":"O","r":7.06,"v":0.055},{"c":"m13","s":"O","r":9.68,"v":0.05},{"c":"m13","s":"O","r":12.25,"v":0.035},{"c":"m13","s":"O","r":14.9,"v":0.051},
{"c":"m13","s":"D","r":1.2,"lo":0.023,"hi":0.253},{"c":"m13","s":"D","r":2.2,"lo":0.023,"hi":0.253},

{"c":"n2808","s":"J","r":1.56,"v":0.216,"e":0.015},{"c":"n2808","s":"J","r":2.94,"v":0.186,"e":0.01},{"c":"n2808","s":"J","r":4.32,"v":0.171,"e":0.015},{"c":"n2808","s":"J","r":5.77,"v":0.15,"e":0.015},{"c":"n2808","s":"J","r":7.16,"v":0.119,"e":0.015},{"c":"n2808","s":"J","r":8.59,"v":0.114,"e":0.02},{"c":"n2808","s":"J","r":9.97,"v":0.121,"e":0.075},{"c":"n2808","s":"J","r":11.35,"v":0.137,"e":0.087},
{"c":"n2808","s":"B","r":0.03,"v":0.35,"e":0.02},{"c":"n2808","s":"B","r":0.08,"v":0.30,"e":0.02},{"c":"n2808","s":"B","r":0.13,"v":0.33,"e":0.02},{"c":"n2808","s":"B","r":0.18,"v":0.29,"e":0.02},{"c":"n2808","s":"B","r":0.24,"v":0.32,"e":0.02},{"c":"n2808","s":"B","r":0.3,"v":0.30,"e":0.02},{"c":"n2808","s":"B","r":0.36,"v":0.315,"e":0.02},{"c":"n2808","s":"B","r":0.42,"v":0.29,"e":0.015},{"c":"n2808","s":"B","r":0.5,"v":0.31,"e":0.015},{"c":"n2808","s":"B","r":0.58,"v":0.30,"e":0.015},{"c":"n2808","s":"B","r":0.66,"v":0.295,"e":0.015},{"c":"n2808","s":"B","r":0.75,"v":0.28,"e":0.015},{"c":"n2808","s":"B","r":0.85,"v":0.27,"e":0.015},{"c":"n2808","s":"B","r":0.95,"v":0.26,"e":0.015},{"c":"n2808","s":"B","r":1.05,"v":0.257,"e":0.012},{"c":"n2808","s":"B","r":1.2,"v":0.25,"e":0.012},{"c":"n2808","s":"B","r":1.43,"v":0.232,"e":0.012},{"c":"n2808","s":"B","r":1.7,"v":0.22,"e":0.01},{"c":"n2808","s":"B","r":2.18,"v":0.207,"e":0.01},{"c":"n2808","s":"B","r":2.6,"v":0.19,"e":0.01},{"c":"n2808","s":"B","r":3.06,"v":0.171,"e":0.01},{"c":"n2808","s":"B","r":3.56,"v":0.169,"e":0.01},{"c":"n2808","s":"B","r":4.07,"v":0.175,"e":0.01},{"c":"n2808","s":"B","r":4.82,"v":0.146,"e":0.01},{"c":"n2808","s":"B","r":5.95,"v":0.161,"e":0.01},{"c":"n2808","s":"B","r":6.83,"v":0.111,"e":0.01},{"c":"n2808","s":"B","r":8.59,"v":0.104,"e":0.01},{"c":"n2808","s":"B","r":9.59,"v":0.096,"e":0.012},
{"c":"n2808","s":"O","r":1.56,"v":0.031},{"c":"n2808","s":"O","r":2.94,"v":0.056},{"c":"n2808","s":"O","r":4.32,"v":0.057},{"c":"n2808","s":"O","r":5.77,"v":0.057},{"c":"n2808","s":"O","r":7.16,"v":0.056},{"c":"n2808","s":"O","r":8.59,"v":0.05},{"c":"n2808","s":"O","r":9.97,"v":0.054},{"c":"n2808","s":"O","r":11.35,"v":0.061},
{"c":"n2808","s":"D","r":0.35,"lo":0.036,"hi":0.239},{"c":"n2808","s":"D","r":0.93,"lo":0.036,"hi":0.239}
]},
"concat":[
{"width":637,"height":163,"title":{"text":"ω Cen","offset":-43},"transform":[{"filter":"datum.c==='wc'"}],
 "layer":[
  {"transform":[{"filter":"datum.s==='J'"}],"mark":{"type":"line","strokeWidth":3},"encoding":{"x":{"field":"r","type":"quantitative","scale":{"domain":[0,90],"nice":false,"zero":false},"axis":{"values":[0,20,40,60,80],"format":"d","title":null}},"y":{"field":"v","type":"quantitative","scale":{"domain":[0.018,1.057],"nice":false,"zero":false},"axis":{"values":[0.5,1.0],"format":".1f","title":null}},"color":{"field":"s","type":"nominal","scale":{"domain":["J","B","O"],"range":["#1f77b4","#008000","#ff00ff"]},"legend":{"title":null,"orient":"none","legendX":717,"legendY":1261,"symbolType":"M-2,0H2M0,-1V1","symbolSize":729,"symbolOffset":13.5,"symbolStrokeWidth":1.5,"labelFont":"Liberation Sans","labelFontSize":23,"labelColor":"#222","labelLimit":400,"labelOffset":32,"padding":8,"rowPadding":5,"strokeColor":"#cccccc","fillColor":"white","cornerRadius":5,"labelExpr":"datum.value==='J'?'Jindal et al. 2019':datum.value==='B'?'Baumgardt et al. 2018':'Observational Error'"}}}},
  {"transform":[{"filter":"datum.s==='J'"}],"mark":{"type":"errorbar","color":"#1f77b4","thickness":2.5},"encoding":{"x":{"field":"r","type":"quantitative","axis":null},"y":{"field":"v","type":"quantitative","axis":null},"yError":{"field":"e"}}},
  {"transform":[{"filter":"datum.s==='B'"}],"mark":{"type":"line","strokeWidth":1.3},"encoding":{"x":{"field":"r","type":"quantitative","axis":null},"y":{"field":"v","type":"quantitative","axis":null},"color":{"field":"s","type":"nominal","scale":{"domain":["J","B","O"],"range":["#1f77b4","#008000","#ff00ff"]},"legend":null}}},
  {"transform":[{"filter":"datum.s==='B'"}],"mark":{"type":"errorbar","color":"#008000","thickness":1.2},"encoding":{"x":{"field":"r","type":"quantitative","axis":null},"y":{"field":"v","type":"quantitative","axis":null},"yError":{"field":"e"}}},
  {"transform":[{"filter":"datum.s==='O'"}],"mark":{"type":"line","strokeWidth":1.5},"encoding":{"x":{"field":"r","type":"quantitative","axis":{"orient":"top","values":[0,20,40,60,80],"labels":false,"title":null}},"y":{"field":"v","type":"quantitative","axis":{"orient":"right","values":[0.5,1.0],"labels":false,"title":null}},"color":{"field":"s","type":"nominal","scale":{"domain":["J","B","O"],"range":["#1f77b4","#008000","#ff00ff"]},"legend":null}}},
  {"transform":[{"filter":"datum.s==='D'"}],"mark":{"type":"rule","color":"#808080","strokeWidth":2.5,"strokeDash":[9,5]},"encoding":{"x":{"field":"r","type":"quantitative","axis":null},"y":{"field":"lo","type":"quantitative","axis":null},"y2":{"field":"hi"}}}
 ],"resolve":{"axis":{"x":"independent","y":"independent"}}},

{"width":637,"height":163,"title":{"text":"47 Tuc","offset":-40},"transform":[{"filter":"datum.c==='t47'"}],
 "layer":[
  {"transform":[{"filter":"datum.s==='J'"}],"mark":{"type":"line","strokeWidth":3},"encoding":{"x":{"field":"r","type":"quantitative","scale":{"domain":[0,55.6],"nice":false,"zero":false},"axis":{"values":[0,10,20,30,40,50],"format":"d","title":null}},"y":{"field":"v","type":"quantitative","scale":{"domain":[-0.022,0.694],"nice":false,"zero":false},"axis":{"values":[0,0.5],"format":".1f","title":null}},"color":{"field":"s","type":"nominal","scale":{"domain":["J","B","O"],"range":["#1f77b4","#008000","#ff00ff"]},"legend":null}}},
  {"transform":[{"filter":"datum.s==='J'"}],"mark":{"type":"errorbar","color":"#1f77b4","thickness":2.5},"encoding":{"x":{"field":"r","type":"quantitative","axis":null},"y":{"field":"v","type":"quantitative","axis":null},"yError":{"field":"e"}}},
  {"transform":[{"filter":"datum.s==='B'"}],"mark":{"type":"line","strokeWidth":1.3},"encoding":{"x":{"field":"r","type":"quantitative","axis":null},"y":{"field":"v","type":"quantitative","axis":null},"color":{"field":"s","type":"nominal","scale":{"domain":["J","B","O"],"range":["#1f77b4","#008000","#ff00ff"]},"legend":null}}},
  {"transform":[{"filter":"datum.s==='B'"}],"mark":{"type":"errorbar","color":"#008000","thickness":1.2},"encoding":{"x":{"field":"r","type":"quantitative","axis":null},"y":{"field":"v","type":"quantitative","axis":null},"yError":{"field":"e"}}},
  {"transform":[{"filter":"datum.s==='O'"}],"mark":{"type":"line","strokeWidth":1.5},"encoding":{"x":{"field":"r","type":"quantitative","axis":{"orient":"top","values":[0,10,20,30,40,50],"labels":false,"title":null}},"y":{"field":"v","type":"quantitative","axis":{"orient":"right","values":[0,0.5],"labels":false,"title":null}},"color":{"field":"s","type":"nominal","scale":{"domain":["J","B","O"],"range":["#1f77b4","#008000","#ff00ff"]},"legend":null}}},
  {"transform":[{"filter":"datum.s==='D'"}],"mark":{"type":"rule","color":"#808080","strokeWidth":2.5,"strokeDash":[9,5]},"encoding":{"x":{"field":"r","type":"quantitative","axis":null},"y":{"field":"lo","type":"quantitative","axis":null},"y2":{"field":"hi"}}}
 ],"resolve":{"axis":{"x":"independent","y":"independent"}}},

{"width":637,"height":163,"title":{"text":"M 3","offset":-40},"transform":[{"filter":"datum.c==='m3'"}],
 "layer":[
  {"transform":[{"filter":"datum.s==='J'"}],"mark":{"type":"line","strokeWidth":3},"encoding":{"x":{"field":"r","type":"quantitative","scale":{"domain":[0,40.8],"nice":false,"zero":false},"axis":{"values":[0,10,20,30,40],"format":"d","title":null}},"y":{"field":"v","type":"quantitative","scale":{"domain":[-0.033,0.25],"nice":false,"zero":false},"axis":{"values":[0,0.2],"format":".1f","title":null}},"color":{"field":"s","type":"nominal","scale":{"domain":["J","B","O"],"range":["#1f77b4","#008000","#ff00ff"]},"legend":null}}},
  {"transform":[{"filter":"datum.s==='J'"}],"mark":{"type":"errorbar","color":"#1f77b4","thickness":2.5},"encoding":{"x":{"field":"r","type":"quantitative","axis":null},"y":{"field":"v","type":"quantitative","axis":null},"yError":{"field":"e"}}},
  {"transform":[{"filter":"datum.s==='B'"}],"mark":{"type":"line","strokeWidth":1.3},"encoding":{"x":{"field":"r","type":"quantitative","axis":null},"y":{"field":"v","type":"quantitative","axis":null},"color":{"field":"s","type":"nominal","scale":{"domain":["J","B","O"],"range":["#1f77b4","#008000","#ff00ff"]},"legend":null}}},
  {"transform":[{"filter":"datum.s==='B'"}],"mark":{"type":"errorbar","color":"#008000","thickness":1.2},"encoding":{"x":{"field":"r","type":"quantitative","axis":null},"y":{"field":"v","type":"quantitative","axis":null},"yError":{"field":"e"}}},
  {"transform":[{"filter":"datum.s==='O'"}],"mark":{"type":"line","strokeWidth":1.5},"encoding":{"x":{"field":"r","type":"quantitative","axis":{"orient":"top","values":[0,10,20,30,40],"labels":false,"title":null}},"y":{"field":"v","type":"quantitative","axis":{"orient":"right","values":[0,0.2],"labels":false,"title":null}},"color":{"field":"s","type":"nominal","scale":{"domain":["J","B","O"],"range":["#1f77b4","#008000","#ff00ff"]},"legend":null}}},
  {"transform":[{"filter":"datum.s==='D'"}],"mark":{"type":"rule","color":"#808080","strokeWidth":2.5,"strokeDash":[9,5]},"encoding":{"x":{"field":"r","type":"quantitative","axis":null},"y":{"field":"lo","type":"quantitative","axis":null},"y2":{"field":"hi"}}}
 ],"resolve":{"axis":{"x":"independent","y":"independent"}}},

{"width":637,"height":163,"title":{"text":"M 5","offset":-40},"transform":[{"filter":"datum.c==='m5'"}],
 "layer":[
  {"transform":[{"filter":"datum.s==='J'"}],"mark":{"type":"line","strokeWidth":3},"encoding":{"x":{"field":"r","type":"quantitative","scale":{"domain":[0,37.9],"nice":false,"zero":false},"axis":{"values":[0,10,20,30],"format":"d","title":null}},"y":{"field":"v","type":"quantitative","scale":{"domain":[-0.015,0.2825],"nice":false,"zero":false},"axis":{"values":[0,0.2],"format":".1f","title":null}},"color":{"field":"s","type":"nominal","scale":{"domain":["J","B","O"],"range":["#1f77b4","#008000","#ff00ff"]},"legend":null}}},
  {"transform":[{"filter":"datum.s==='J'"}],"mark":{"type":"errorbar","color":"#1f77b4","thickness":2.5},"encoding":{"x":{"field":"r","type":"quantitative","axis":null},"y":{"field":"v","type":"quantitative","axis":null},"yError":{"field":"e"}}},
  {"transform":[{"filter":"datum.s==='B'"}],"mark":{"type":"line","strokeWidth":1.3},"encoding":{"x":{"field":"r","type":"quantitative","axis":null},"y":{"field":"v","type":"quantitative","axis":null},"color":{"field":"s","type":"nominal","scale":{"domain":["J","B","O"],"range":["#1f77b4","#008000","#ff00ff"]},"legend":null}}},
  {"transform":[{"filter":"datum.s==='B'"}],"mark":{"type":"errorbar","color":"#008000","thickness":1.2},"encoding":{"x":{"field":"r","type":"quantitative","axis":null},"y":{"field":"v","type":"quantitative","axis":null},"yError":{"field":"e"}}},
  {"transform":[{"filter":"datum.s==='O'"}],"mark":{"type":"line","strokeWidth":1.5},"encoding":{"x":{"field":"r","type":"quantitative","axis":{"orient":"top","values":[0,10,20,30],"labels":false,"title":null}},"y":{"field":"v","type":"quantitative","axis":{"orient":"right","values":[0,0.2],"labels":false,"title":null}},"color":{"field":"s","type":"nominal","scale":{"domain":["J","B","O"],"range":["#1f77b4","#008000","#ff00ff"]},"legend":null}}},
  {"transform":[{"filter":"datum.s==='D'"}],"mark":{"type":"rule","color":"#808080","strokeWidth":2.5,"strokeDash":[9,5]},"encoding":{"x":{"field":"r","type":"quantitative","axis":null},"y":{"field":"lo","type":"quantitative","axis":null},"y2":{"field":"hi"}}}
 ],"resolve":{"axis":{"x":"independent","y":"independent"}}},

{"width":637,"height":163,"title":{"text":"M 15","offset":-65},"transform":[{"filter":"datum.c==='m15'"}],
 "layer":[
  {"transform":[{"filter":"datum.s==='J'"}],"mark":{"type":"line","strokeWidth":3},"encoding":{"x":{"field":"r","type":"quantitative","scale":{"domain":[0,30.9],"nice":false,"zero":false},"axis":{"values":[0,5,10,15,20,25,30],"format":"d","title":null}},"y":{"field":"v","type":"quantitative","scale":{"domain":[-0.026,0.324],"nice":false,"zero":false},"axis":{"values":[0,0.2],"format":".1f","title":"σμ [mas yr⁻¹]","titleFont":"Liberation Serif","titleFontStyle":"italic","titleFontWeight":"normal","titleFontSize":41,"titleColor":"#111","titleAngle":270,"titleX":-78,"titleY":84,"titleAlign":"center","titleBaseline":"middle"}},"color":{"field":"s","type":"nominal","scale":{"domain":["J","B","O"],"range":["#1f77b4","#008000","#ff00ff"]},"legend":null}}},
  {"transform":[{"filter":"datum.s==='J'"}],"mark":{"type":"errorbar","color":"#1f77b4","thickness":2.5},"encoding":{"x":{"field":"r","type":"quantitative","axis":null},"y":{"field":"v","type":"quantitative","axis":null},"yError":{"field":"e"}}},
  {"transform":[{"filter":"datum.s==='B'"}],"mark":{"type":"line","strokeWidth":1.3},"encoding":{"x":{"field":"r","type":"quantitative","axis":null},"y":{"field":"v","type":"quantitative","axis":null},"color":{"field":"s","type":"nominal","scale":{"domain":["J","B","O"],"range":["#1f77b4","#008000","#ff00ff"]},"legend":null}}},
  {"transform":[{"filter":"datum.s==='B'"}],"mark":{"type":"errorbar","color":"#008000","thickness":1.2},"encoding":{"x":{"field":"r","type":"quantitative","axis":null},"y":{"field":"v","type":"quantitative","axis":null},"yError":{"field":"e"}}},
  {"transform":[{"filter":"datum.s==='O'"}],"mark":{"type":"line","strokeWidth":1.5},"encoding":{"x":{"field":"r","type":"quantitative","axis":{"orient":"top","values":[0,5,10,15,20,25,30],"labels":false,"title":null}},"y":{"field":"v","type":"quantitative","axis":{"orient":"right","values":[0,0.2],"labels":false,"title":null}},"color":{"field":"s","type":"nominal","scale":{"domain":["J","B","O"],"range":["#1f77b4","#008000","#ff00ff"]},"legend":null}}},
  {"transform":[{"filter":"datum.s==='D'"}],"mark":{"type":"rule","color":"#808080","strokeWidth":2.5,"strokeDash":[9,5]},"encoding":{"x":{"field":"r","type":"quantitative","axis":null},"y":{"field":"lo","type":"quantitative","axis":null},"y2":{"field":"hi"}}}
 ],"resolve":{"axis":{"x":"independent","y":"independent"}}},

{"width":637,"height":163,"title":{"text":"M 22","offset":-40},"transform":[{"filter":"datum.c==='m22'"}],
 "layer":[
  {"transform":[{"filter":"datum.s==='J'"}],"mark":{"type":"line","strokeWidth":3},"encoding":{"x":{"field":"r","type":"quantitative","scale":{"domain":[0,43],"nice":false,"zero":false},"axis":{"values":[0,10,20,30,40],"format":"d","title":null}},"y":{"field":"v","type":"quantitative","scale":{"domain":[0.009,0.7225],"nice":false,"zero":false},"axis":{"values":[0.25,0.5],"format":".2f","title":null}},"color":{"field":"s","type":"nominal","scale":{"domain":["J","B","O"],"range":["#1f77b4","#008000","#ff00ff"]},"legend":null}}},
  {"transform":[{"filter":"datum.s==='J'"}],"mark":{"type":"errorbar","color":"#1f77b4","thickness":2.5},"encoding":{"x":{"field":"r","type":"quantitative","axis":null},"y":{"field":"v","type":"quantitative","axis":null},"yError":{"field":"e"}}},
  {"transform":[{"filter":"datum.s==='B'"}],"mark":{"type":"line","strokeWidth":1.3},"encoding":{"x":{"field":"r","type":"quantitative","axis":null},"y":{"field":"v","type":"quantitative","axis":null},"color":{"field":"s","type":"nominal","scale":{"domain":["J","B","O"],"range":["#1f77b4","#008000","#ff00ff"]},"legend":null}}},
  {"transform":[{"filter":"datum.s==='B'"}],"mark":{"type":"errorbar","color":"#008000","thickness":1.2},"encoding":{"x":{"field":"r","type":"quantitative","axis":null},"y":{"field":"v","type":"quantitative","axis":null},"yError":{"field":"e"}}},
  {"transform":[{"filter":"datum.s==='O'"}],"mark":{"type":"line","strokeWidth":1.5},"encoding":{"x":{"field":"r","type":"quantitative","axis":{"orient":"top","values":[0,10,20,30,40],"labels":false,"title":null}},"y":{"field":"v","type":"quantitative","axis":{"orient":"right","values":[0.25,0.5],"labels":false,"title":null}},"color":{"field":"s","type":"nominal","scale":{"domain":["J","B","O"],"range":["#1f77b4","#008000","#ff00ff"]},"legend":null}}},
  {"transform":[{"filter":"datum.s==='D'"}],"mark":{"type":"rule","color":"#808080","strokeWidth":2.5,"strokeDash":[9,5]},"encoding":{"x":{"field":"r","type":"quantitative","axis":null},"y":{"field":"lo","type":"quantitative","axis":null},"y2":{"field":"hi"}}}
 ],"resolve":{"axis":{"x":"independent","y":"independent"}}},

{"width":637,"height":163,"title":{"text":"NGC 6397","offset":-41},"transform":[{"filter":"datum.c==='n6397'"}],
 "layer":[
  {"transform":[{"filter":"datum.s==='J'"}],"mark":{"type":"line","strokeWidth":3},"encoding":{"x":{"field":"r","type":"quantitative","scale":{"domain":[0,63.9],"nice":false,"zero":false},"axis":{"values":[0,10,20,30,40,50,60],"format":"d","title":null}},"y":{"field":"v","type":"quantitative","scale":{"domain":[0,0.595],"nice":false,"zero":false},"axis":{"values":[0,0.25,0.5],"format":".2f","title":null}},"color":{"field":"s","type":"nominal","scale":{"domain":["J","B","O"],"range":["#1f77b4","#008000","#ff00ff"]},"legend":null}}},
  {"transform":[{"filter":"datum.s==='J'"}],"mark":{"type":"errorbar","color":"#1f77b4","thickness":2.5},"encoding":{"x":{"field":"r","type":"quantitative","axis":null},"y":{"field":"v","type":"quantitative","axis":null},"yError":{"field":"e"}}},
  {"transform":[{"filter":"datum.s==='B'"}],"mark":{"type":"line","strokeWidth":1.3},"encoding":{"x":{"field":"r","type":"quantitative","axis":null},"y":{"field":"v","type":"quantitative","axis":null},"color":{"field":"s","type":"nominal","scale":{"domain":["J","B","O"],"range":["#1f77b4","#008000","#ff00ff"]},"legend":null}}},
  {"transform":[{"filter":"datum.s==='B'"}],"mark":{"type":"errorbar","color":"#008000","thickness":1.2},"encoding":{"x":{"field":"r","type":"quantitative","axis":null},"y":{"field":"v","type":"quantitative","axis":null},"yError":{"field":"e"}}},
  {"transform":[{"filter":"datum.s==='O'"}],"mark":{"type":"line","strokeWidth":1.5},"encoding":{"x":{"field":"r","type":"quantitative","axis":{"orient":"top","values":[0,10,20,30,40,50,60],"labels":false,"title":null}},"y":{"field":"v","type":"quantitative","axis":{"orient":"right","values":[0,0.25,0.5],"labels":false,"title":null}},"color":{"field":"s","type":"nominal","scale":{"domain":["J","B","O"],"range":["#1f77b4","#008000","#ff00ff"]},"legend":null}}},
  {"transform":[{"filter":"datum.s==='D'"}],"mark":{"type":"rule","color":"#808080","strokeWidth":2.5,"strokeDash":[9,5]},"encoding":{"x":{"field":"r","type":"quantitative","axis":null},"y":{"field":"lo","type":"quantitative","axis":null},"y2":{"field":"hi"}}}
 ],"resolve":{"axis":{"x":"independent","y":"independent"}}},

{"width":637,"height":163,"title":{"text":"NGC 6752","offset":-51},"transform":[{"filter":"datum.c==='n6752'"}],
 "layer":[
  {"transform":[{"filter":"datum.s==='J'"}],"mark":{"type":"line","strokeWidth":3},"encoding":{"x":{"field":"r","type":"quantitative","scale":{"domain":[0,44.9],"nice":false,"zero":false},"axis":{"values":[0,10,20,30,40],"format":"d","title":null}},"y":{"field":"v","type":"quantitative","scale":{"domain":[-0.007,0.505],"nice":false,"zero":false},"axis":{"values":[0,0.5],"format":".1f","title":null}},"color":{"field":"s","type":"nominal","scale":{"domain":["J","B","O"],"range":["#1f77b4","#008000","#ff00ff"]},"legend":null}}},
  {"transform":[{"filter":"datum.s==='J'"}],"mark":{"type":"errorbar","color":"#1f77b4","thickness":2.5},"encoding":{"x":{"field":"r","type":"quantitative","axis":null},"y":{"field":"v","type":"quantitative","axis":null},"yError":{"field":"e"}}},
  {"transform":[{"filter":"datum.s==='B'"}],"mark":{"type":"line","strokeWidth":1.3},"encoding":{"x":{"field":"r","type":"quantitative","axis":null},"y":{"field":"v","type":"quantitative","axis":null},"color":{"field":"s","type":"nominal","scale":{"domain":["J","B","O"],"range":["#1f77b4","#008000","#ff00ff"]},"legend":null}}},
  {"transform":[{"filter":"datum.s==='B'"}],"mark":{"type":"errorbar","color":"#008000","thickness":1.2},"encoding":{"x":{"field":"r","type":"quantitative","axis":null},"y":{"field":"v","type":"quantitative","axis":null},"yError":{"field":"e"}}},
  {"transform":[{"filter":"datum.s==='O'"}],"mark":{"type":"line","strokeWidth":1.5},"encoding":{"x":{"field":"r","type":"quantitative","axis":{"orient":"top","values":[0,10,20,30,40],"labels":false,"title":null}},"y":{"field":"v","type":"quantitative","axis":{"orient":"right","values":[0,0.5],"labels":false,"title":null}},"color":{"field":"s","type":"nominal","scale":{"domain":["J","B","O"],"range":["#1f77b4","#008000","#ff00ff"]},"legend":null}}},
  {"transform":[{"filter":"datum.s==='D'"}],"mark":{"type":"rule","color":"#808080","strokeWidth":2.5,"strokeDash":[9,5]},"encoding":{"x":{"field":"r","type":"quantitative","axis":null},"y":{"field":"lo","type":"quantitative","axis":null},"y2":{"field":"hi"}}}
 ],"resolve":{"axis":{"x":"independent","y":"independent"}}},

{"width":637,"height":163,"title":{"text":"M 4","offset":-40},"transform":[{"filter":"datum.c==='m4'"}],
 "layer":[
  {"transform":[{"filter":"datum.s==='J'"}],"mark":{"type":"line","strokeWidth":3},"encoding":{"x":{"field":"r","type":"quantitative","scale":{"domain":[0,35.5],"nice":false,"zero":false},"axis":{"values":[0,10,20,30],"format":"d","title":null}},"y":{"field":"v","type":"quantitative","scale":{"domain":[-0.003,0.639],"nice":false,"zero":false},"axis":{"values":[0,0.5],"format":".1f","title":null}},"color":{"field":"s","type":"nominal","scale":{"domain":["J","B","O"],"range":["#1f77b4","#008000","#ff00ff"]},"legend":null}}},
  {"transform":[{"filter":"datum.s==='J'"}],"mark":{"type":"errorbar","color":"#1f77b4","thickness":2.5},"encoding":{"x":{"field":"r","type":"quantitative","axis":null},"y":{"field":"v","type":"quantitative","axis":null},"yError":{"field":"e"}}},
  {"transform":[{"filter":"datum.s==='B'"}],"mark":{"type":"line","strokeWidth":1.3},"encoding":{"x":{"field":"r","type":"quantitative","axis":null},"y":{"field":"v","type":"quantitative","axis":null},"color":{"field":"s","type":"nominal","scale":{"domain":["J","B","O"],"range":["#1f77b4","#008000","#ff00ff"]},"legend":null}}},
  {"transform":[{"filter":"datum.s==='B'"}],"mark":{"type":"errorbar","color":"#008000","thickness":1.2},"encoding":{"x":{"field":"r","type":"quantitative","axis":null},"y":{"field":"v","type":"quantitative","axis":null},"yError":{"field":"e"}}},
  {"transform":[{"filter":"datum.s==='O'"}],"mark":{"type":"line","strokeWidth":1.5},"encoding":{"x":{"field":"r","type":"quantitative","axis":{"orient":"top","values":[0,10,20,30],"labels":false,"title":null}},"y":{"field":"v","type":"quantitative","axis":{"orient":"right","values":[0,0.5],"labels":false,"title":null}},"color":{"field":"s","type":"nominal","scale":{"domain":["J","B","O"],"range":["#1f77b4","#008000","#ff00ff"]},"legend":null}}},
  {"transform":[{"filter":"datum.s==='D'"}],"mark":{"type":"rule","color":"#808080","strokeWidth":2.5,"strokeDash":[9,5]},"encoding":{"x":{"field":"r","type":"quantitative","axis":null},"y":{"field":"lo","type":"quantitative","axis":null},"y2":{"field":"hi"}}}
 ],"resolve":{"axis":{"x":"independent","y":"independent"}}},

{"width":637,"height":163,"title":{"text":"M 13","offset":-40},"transform":[{"filter":"datum.c==='m13'"}],
 "layer":[
  {"transform":[{"filter":"datum.s==='J'"}],"mark":{"type":"line","strokeWidth":3},"encoding":{"x":{"field":"r","type":"quantitative","scale":{"domain":[0,66.8],"nice":false,"zero":false},"axis":{"values":[0,10,20,30,40,50,60],"format":"d","title":null}},"y":{"field":"v","type":"quantitative","scale":{"domain":[0.013,0.2755],"nice":false,"zero":false},"axis":{"values":[0.1,0.2],"format":".1f","title":null}},"color":{"field":"s","type":"nominal","scale":{"domain":["J","B","O"],"range":["#1f77b4","#008000","#ff00ff"]},"legend":null}}},
  {"transform":[{"filter":"datum.s==='J'"}],"mark":{"type":"errorbar","color":"#1f77b4","thickness":2.5},"encoding":{"x":{"field":"r","type":"quantitative","axis":null},"y":{"field":"v","type":"quantitative","axis":null},"yError":{"field":"e"}}},
  {"transform":[{"filter":"datum.s==='B'"}],"mark":{"type":"line","strokeWidth":1.3},"encoding":{"x":{"field":"r","type":"quantitative","axis":null},"y":{"field":"v","type":"quantitative","axis":null},"color":{"field":"s","type":"nominal","scale":{"domain":["J","B","O"],"range":["#1f77b4","#008000","#ff00ff"]},"legend":null}}},
  {"transform":[{"filter":"datum.s==='B'"}],"mark":{"type":"errorbar","color":"#008000","thickness":1.2},"encoding":{"x":{"field":"r","type":"quantitative","axis":null},"y":{"field":"v","type":"quantitative","axis":null},"yError":{"field":"e"}}},
  {"transform":[{"filter":"datum.s==='O'"}],"mark":{"type":"line","strokeWidth":1.5},"encoding":{"x":{"field":"r","type":"quantitative","axis":{"orient":"top","values":[0,10,20,30,40,50,60],"labels":false,"title":null}},"y":{"field":"v","type":"quantitative","axis":{"orient":"right","values":[0.1,0.2],"labels":false,"title":null}},"color":{"field":"s","type":"nominal","scale":{"domain":["J","B","O"],"range":["#1f77b4","#008000","#ff00ff"]},"legend":null}}},
  {"transform":[{"filter":"datum.s==='D'"}],"mark":{"type":"rule","color":"#808080","strokeWidth":2.5,"strokeDash":[9,5]},"encoding":{"x":{"field":"r","type":"quantitative","axis":null},"y":{"field":"lo","type":"quantitative","axis":null},"y2":{"field":"hi"}}}
 ],"resolve":{"axis":{"x":"independent","y":"independent"}}},

{"width":637,"height":163,"title":{"text":"NGC 2808","offset":-40},"transform":[{"filter":"datum.c==='n2808'"}],
 "layer":[
  {"transform":[{"filter":"datum.s==='J'"}],"mark":{"type":"line","strokeWidth":3},"encoding":{"x":{"field":"r","type":"quantitative","scale":{"domain":[0,35.8],"nice":false,"zero":false},"axis":{"values":[0,10,20,30],"format":"d","title":"R [arcmin]","titleFont":"Liberation Sans","titleFontWeight":"normal","titleFontSize":33,"titleColor":"#222","titleX":632,"titleY":51,"titleAlign":"center","titleBaseline":"alphabetic","titleAngle":0}},"y":{"field":"v","type":"quantitative","scale":{"domain":[0.0164,0.369],"nice":false,"zero":false},"axis":{"values":[0.1,0.2,0.3],"format":".1f","title":null}},"color":{"field":"s","type":"nominal","scale":{"domain":["J","B","O"],"range":["#1f77b4","#008000","#ff00ff"]},"legend":null}}},
  {"transform":[{"filter":"datum.s==='J'"}],"mark":{"type":"errorbar","color":"#1f77b4","thickness":2.5},"encoding":{"x":{"field":"r","type":"quantitative","axis":null},"y":{"field":"v","type":"quantitative","axis":null},"yError":{"field":"e"}}},
  {"transform":[{"filter":"datum.s==='B'"}],"mark":{"type":"line","strokeWidth":1.3},"encoding":{"x":{"field":"r","type":"quantitative","axis":null},"y":{"field":"v","type":"quantitative","axis":null},"color":{"field":"s","type":"nominal","scale":{"domain":["J","B","O"],"range":["#1f77b4","#008000","#ff00ff"]},"legend":null}}},
  {"transform":[{"filter":"datum.s==='B'"}],"mark":{"type":"errorbar","color":"#008000","thickness":1.2},"encoding":{"x":{"field":"r","type":"quantitative","axis":null},"y":{"field":"v","type":"quantitative","axis":null},"yError":{"field":"e"}}},
  {"transform":[{"filter":"datum.s==='O'"}],"mark":{"type":"line","strokeWidth":1.5},"encoding":{"x":{"field":"r","type":"quantitative","axis":{"orient":"top","values":[0,10,20,30],"labels":false,"title":null}},"y":{"field":"v","type":"quantitative","axis":{"orient":"right","values":[0.1,0.2,0.3],"labels":false,"title":null}},"color":{"field":"s","type":"nominal","scale":{"domain":["J","B","O"],"range":["#1f77b4","#008000","#ff00ff"]},"legend":null}}},
  {"transform":[{"filter":"datum.s==='D'"}],"mark":{"type":"rule","color":"#808080","strokeWidth":2.5,"strokeDash":[9,5]},"encoding":{"x":{"field":"r","type":"quantitative","axis":null},"y":{"field":"lo","type":"quantitative","axis":null},"y2":{"field":"hi"}}}
 ],"resolve":{"axis":{"x":"independent","y":"independent"}}}
],
"resolve":{"scale":{"x":"independent","y":"independent","color":"shared"}},
"config":{
 "view":{"stroke":"#222222","strokeWidth":1.4},
 "axis":{"domain":false,"grid":false,"tickSize":-8,"tickWidth":1.3,"tickColor":"#222222","labelFont":"Liberation Serif","labelFontSize":26,"labelColor":"#111111","labelPadding":16,"labelOverlap":false,"labelFlush":false},
 "title":{"font":"Liberation Sans","fontSize":33,"fontWeight":"normal","color":"#222222","anchor":"end","frame":"group","offset":-40,"dx":-33,"baseline":"alphabetic"},
 "line":{"strokeJoin":"round"}
}
}
